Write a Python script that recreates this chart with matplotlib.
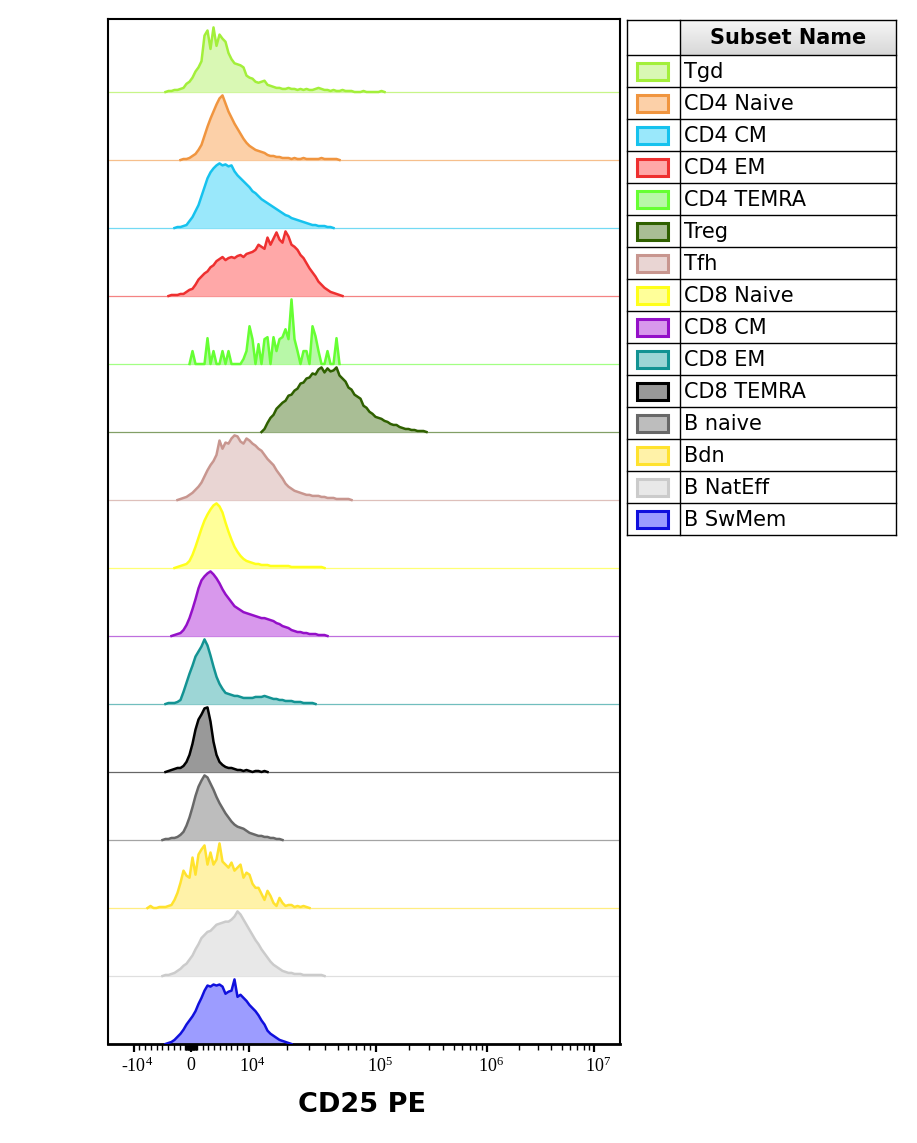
import numpy as np
import matplotlib.pyplot as plt
from matplotlib.patches import Rectangle
from matplotlib.colors import LinearSegmentedColormap
from matplotlib.transforms import ScaledTranslation

plt.rcParams['mathtext.fontset'] = 'custom'
plt.rcParams['mathtext.rm'] = 'Liberation Serif'

# subsets, top to bottom
subsets = ['Tgd', 'CD4 Naive', 'CD4 CM', 'CD4 EM', 'CD4 TEMRA', 'Treg', 'Tfh',
           'CD8 Naive', 'CD8 CM', 'CD8 EM', 'CD8 TEMRA', 'B naive', 'Bdn',
           'B NatEff', 'B SwMem']
line_colors = ['#a3ef3a', '#f0953f', '#16c2ee', '#ee3030', '#66ff33', '#2f6000',
               '#c8968f', '#ffff1a', '#9410c8', '#139393', '#000000', '#686868',
               '#ffe22e', '#cbcbcb', '#1010dd']
fill_colors = ['#d9f8b4', '#fcd0a8', '#9ae8fb', '#ffa8a8', '#b8f8a8', '#a9be95',
               '#e9d5d3', '#ffff99', '#d898ec', '#9dd6d6', '#999999', '#bdbdbd',
               '#fff2a8', '#e8e8e8', '#9c9cff']

# CD25 PE histograms, counts per display channel (3 display units wide)
first_channel = [19, 24, 22, 20, 27, 51, 23, 22, 21, 19, 19, 18, 13, 18, 19]
tgd = [1, 1, 2, 2, 3, 4, 8, 10, 14, 20, 24, 30, 55, 60, 42, 63, 45, 56, 52, 49, 38, 32, 28, 27,
       26, 24, 16, 14, 13, 10, 9, 10, 11, 7, 6, 5, 4, 4, 3, 3, 4, 3, 3, 2, 3, 2, 3, 2, 2, 3, 4, 3,
       2, 2, 1, 2, 1, 1, 2, 1, 1, 1, 0, 0, 0, 1, 0, 0, 0, 0, 0, 1]
cd4_naive = [1, 1, 2, 4, 6, 10, 15, 24, 33, 41, 48, 55, 61, 64, 56, 48, 42, 36, 31, 26, 21, 17, 14,
             12, 10, 9, 8, 7, 5, 4, 4, 3, 3, 2, 2, 2, 1, 2, 1, 1, 2, 1, 1, 1, 1, 1, 2, 1, 1, 1, 1, 1]
cd4_cm = [1, 1, 2, 3, 7, 11, 17, 23, 32, 41, 50, 56, 60, 63, 65, 63, 64, 62, 63, 57, 53, 50, 47, 44,
          41, 37, 35, 32, 29, 27, 25, 23, 21, 19, 17, 15, 13, 12, 10, 9, 8, 7, 6, 5, 4, 3, 3, 2, 2,
          2, 1, 1]
cd4_em = [1, 1, 1, 2, 2, 4, 6, 7, 11, 16, 19, 22, 24, 28, 30, 34, 36, 38, 35, 37, 38, 37, 39, 40,
          38, 41, 42, 43, 45, 50, 48, 46, 57, 50, 56, 62, 55, 52, 63, 58, 50, 48, 45, 40, 37, 32,
          27, 23, 19, 14, 11, 8, 6, 4, 3, 2, 1]
cd4_temra = [13, 0, 0, 0, 0, 26, 0, 13, 0, 0, 13, 0, 13, 0, 0, 0, 0, 5, 13, 38, 25, 0, 20, 0, 25,
             27, 0, 27, 13, 25, 27, 35, 25, 65, 25, 13, 0, 13, 13, 0, 38, 28, 13, 0, 0, 13, 0, 0, 26]
treg = [3, 9, 14, 17, 23, 26, 29, 31, 36, 37, 41, 43, 48, 49, 53, 54, 58, 57, 62, 64, 59, 63, 60,
        61, 64, 56, 53, 50, 44, 42, 37, 35, 33, 26, 24, 20, 18, 15, 14, 13, 11, 10, 8, 7, 7, 5, 4,
        3, 3, 2, 2, 1, 1, 1]
tfh = [1, 2, 3, 5, 7, 10, 13, 17, 23, 29, 34, 38, 44, 58, 50, 56, 55, 60, 63, 62, 57, 55, 60, 58,
       55, 53, 50, 48, 44, 40, 37, 34, 29, 25, 21, 16, 13, 11, 9, 8, 7, 6, 5, 5, 4, 4, 4, 3, 3, 2,
       2, 2, 1, 1, 1, 1, 1]
cd8_naive = [1, 2, 3, 4, 7, 13, 21, 30, 39, 47, 53, 58, 62, 64, 61, 55, 45, 36, 28, 21, 16, 12, 9,
             7, 6, 5, 4, 4, 3, 3, 3, 2, 2, 2, 2, 2, 2, 2, 1, 1, 1, 1, 1, 1, 1, 1, 1, 1, 1]
cd8_cm = [1, 2, 3, 6, 11, 18, 27, 37, 48, 56, 60, 63, 65, 62, 58, 53, 47, 42, 38, 34, 30, 28, 26,
          24, 23, 22, 21, 20, 19, 18, 18, 17, 16, 15, 13, 12, 10, 9, 8, 6, 5, 4, 4, 3, 3, 2, 2, 2,
          1, 1, 1]
cd8_em = [1, 1, 1, 2, 4, 12, 21, 30, 38, 47, 52, 57, 64, 58, 48, 37, 27, 20, 15, 11, 10, 9, 8, 8,
          7, 6, 6, 6, 6, 7, 7, 7, 8, 7, 6, 5, 5, 4, 4, 3, 3, 3, 2, 2, 2, 1, 1, 1, 1]
cd8_temra = [1, 2, 3, 4, 4, 6, 10, 17, 28, 42, 52, 57, 63, 64, 50, 30, 17, 10, 7, 5, 4, 4, 3, 2, 2,
             1, 2, 1, 0, 1, 1, 0, 1]
b_naive = [1, 1, 2, 2, 3, 5, 8, 14, 22, 32, 43, 52, 58, 63, 61, 55, 49, 42, 36, 31, 26, 22, 18,
           15, 13, 12, 11, 9, 7, 6, 5, 4, 4, 3, 3, 2, 2, 1, 1]
bdn = [2, 0, 0, 1, 1, 1, 2, 3, 8, 15, 25, 37, 32, 30, 50, 33, 53, 58, 62, 43, 55, 43, 48, 64, 46,
       43, 40, 45, 37, 40, 43, 30, 35, 33, 24, 20, 20, 14, 8, 17, 12, 5, 2, 10, 5, 2, 3, 3, 1, 2,
       1, 2, 1]
b_nateff = [1, 1, 2, 3, 5, 7, 10, 12, 16, 20, 26, 31, 37, 40, 43, 44, 47, 50, 51, 52, 53, 53, 55,
            58, 63, 60, 55, 50, 45, 40, 35, 31, 26, 22, 18, 14, 11, 9, 7, 5, 4, 3, 3, 2, 2, 2, 1,
            1, 1, 1, 1, 1, 1]
b_swmem = [1, 2, 4, 7, 10, 14, 19, 23, 27, 32, 39, 45, 52, 57, 56, 58, 57, 58, 56, 49, 51, 52, 63,
           46, 48, 45, 42, 38, 35, 32, 28, 23, 19, 13, 10, 8, 6, 4, 3, 2, 1]
counts = [tgd, cd4_naive, cd4_cm, cd4_em, cd4_temra, treg, tfh, cd8_naive, cd8_cm, cd8_em,
          cd8_temra, b_naive, bdn, b_nateff, b_swmem]

tick_values = [-1e4, 0, 1e4, 1e5, 1e6, 1e7]
tick_labels = ['-$\\mathrm{10^{4}}$', '0', '$\\mathrm{10^{4}}$', '$\\mathrm{10^{5}}$',
               '$\\mathrm{10^{6}}$', '$\\mathrm{10^{7}}$']

# biexponential-like display scale: linear around zero, log above 1e4
dec = np.array([4.0, 5.0, 6.0, 7.0, 8.0])
dec_pos = np.array([57.5, 185.0, 296.0, 403.0, 510.0])
lin = 57.5 / 1e4


def to_disp(x):
    x = np.asarray(x, dtype=float)
    lg = np.log10(np.maximum(x, 1e4))
    return np.where(x <= 1e4, x * lin, np.interp(lg, dec, dec_pos))


def to_data(u):
    u = np.asarray(u, dtype=float)
    return np.where(u <= dec_pos[0], u / lin, 10 ** np.interp(np.maximum(u, dec_pos[0]), dec_pos, dec))


fig = plt.figure(figsize=(9.17, 11.43), dpi=100)
ax = fig.add_axes([108 / 917, 1 - 1044 / 1143, 512 / 917, 1025 / 1143])
ax.set_xscale('function', functions=(to_disp, to_data))

n = len(subsets)
peak = 0.95
for i, name in enumerate(subsets):
    base = n - 1 - i
    c = np.array(counts[i], dtype=float)
    h = np.concatenate([[0], c / c.max() * peak, [0]])
    k = first_channel[i] + np.arange(-1, len(c) + 1)
    x = to_data(-79.5 + 3 * k)
    if base > 0:
        ax.axhline(base, color=line_colors[i], lw=0.9, alpha=0.6, zorder=1)
    ax.fill_between(x, base, base + h, color=fill_colors[i], lw=0, zorder=2)
    ax.plot(x, base + h, color=line_colors[i], lw=1.8, zorder=3, solid_joinstyle='round')

ax.set_xlim(to_data(-83), to_data(429))
ax.set_ylim(0, 1025 / 68)
ax.set_yticks([])

minor = ([s * k * 1000 for s in (-1, 1) for k in range(1, 10)]
         + [s * k * 100 for s in (-1, 1) for k in range(1, 10)]
         + [m * 10 ** d for d in (4, 5, 6) for m in range(2, 10)])
ax.set_xticks(tick_values)
ax.set_xticklabels(tick_labels, fontfamily='Liberation Serif', fontsize=13)
ax.set_xticks(minor, minor=True)
ax.tick_params(axis='x', which='major', length=6, width=1.6, pad=3, direction='out')
ax.tick_params(axis='x', which='minor', length=4, width=1.0, direction='out')
for lab, v in zip(ax.get_xticklabels(), tick_values):
    if v != 0:
        lab.set_transform(lab.get_transform() + ScaledTranslation(4 / 100, 0, fig.dpi_scale_trans))
for side in ['top', 'left', 'right']:
    ax.spines[side].set_linewidth(1.5)
ax.spines['bottom'].set_linewidth(2)

fig.text(362 / 917, 1 - 1105 / 1143, 'CD25 PE', ha='center', va='center',
         fontsize=19.5, fontweight='bold')

# legend table
lg = fig.add_axes([627 / 917, 1 - 535 / 1143, 269 / 917, 515 / 1143])
grad = LinearSegmentedColormap.from_list('hdr', ['#f6f6f6', '#d8d8d8'])
lg.imshow(np.linspace(0, 1, 40).reshape(-1, 1), cmap=grad, extent=(53, 269, 35, 0),
          aspect='auto', zorder=0)
lg.set_xlim(0, 269)
lg.set_ylim(515, 0)
lg.axis('off')
lg.text(161, 18.5, 'Subset Name', ha='center', va='center', fontsize=15, fontweight='bold')
for y in [0, 35] + [35 + 32 * (k + 1) for k in range(n)]:
    lg.plot([0, 269], [y, y], color='black', lw=1, zorder=3, clip_on=False)
for xv in [0, 53, 269]:
    lg.plot([xv, xv], [0, 515], color='black', lw=1, zorder=3, clip_on=False)
for i, name in enumerate(subsets):
    top = 35 + 32 * i
    lg.add_patch(Rectangle((10, top + 8), 31, 17, facecolor=fill_colors[i],
                           edgecolor=line_colors[i], lw=2.2, zorder=2))
    lg.text(57, top + 17, name, ha='left', va='center', fontsize=15)

fig.savefig('out.png', dpi=100)
